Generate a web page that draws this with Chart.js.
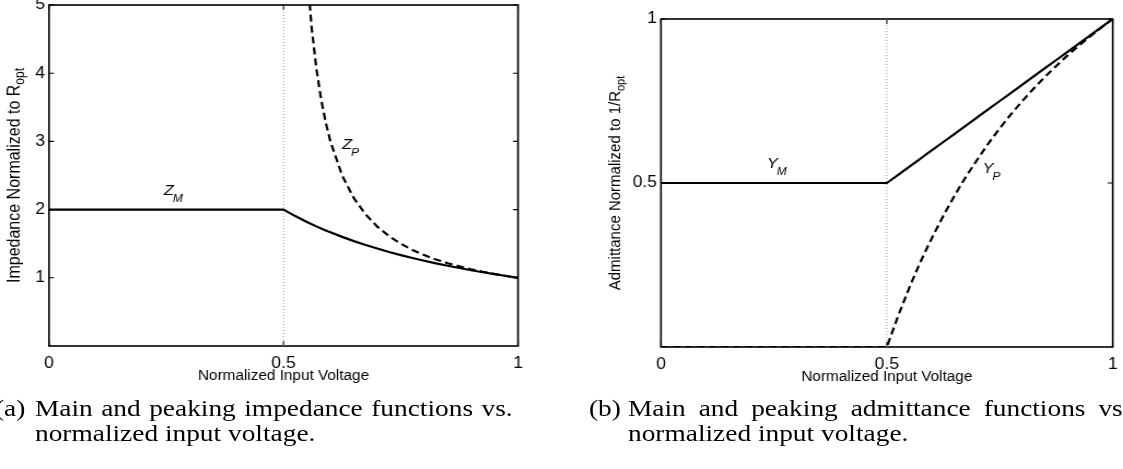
<!DOCTYPE html>
<html>
<head>
<meta charset="utf-8">
<script src="https://cdn.jsdelivr.net/npm/chart.js@4.4.1/dist/chart.umd.min.js"></script>
<style>
  html, body { margin: 0; padding: 0; background: #fff; }
  body { width: 1123px; height: 469px; position: relative; overflow: hidden; }
  canvas { position: absolute; top: 0; }
  .cap {
    position: absolute;
    font-family: "Liberation Serif", "Times New Roman", serif;
    font-size: 24px;
    line-height: 25px;
    white-space: nowrap;
    color: #000;
    transform: scaleX(1.14);
    transform-origin: 0 0;
  }
  .first { text-align: justify; text-align-last: justify; }
</style>
</head>
<body>
<canvas id="impedance" width="512" height="400" style="left:0;width:560px;height:400px"></canvas>
<canvas id="admittance" width="515" height="400" style="left:560px;width:563px;height:400px"></canvas>

<div class="cap" style="left:-5px;top:396px">(a)</div>
<div class="cap first" style="left:35px;top:396px;width:419px">Main and peaking impedance functions vs.</div>
<div class="cap" style="left:35px;top:421px">normalized input voltage.</div>

<div class="cap" style="left:589px;top:396px">(b)</div>
<div class="cap first" style="left:628px;top:396px;width:440px">Main and peaking admittance functions vs.</div>
<div class="cap" style="left:628px;top:421px">normalized input voltage.</div>

<script>
// normalized input voltage samples shared by every curve
const voltage = [0, 0.5, 0.525, 0.55, 0.56, 0.57, 0.58, 0.59, 0.6, 0.625, 0.65, 0.675, 0.7,
                 0.725, 0.75, 0.775, 0.8, 0.825, 0.85, 0.875, 0.9, 0.925, 0.95, 0.975, 1];

// impedances normalized to R_opt
const zMain = [2, 2, 1.905, 1.818, 1.786, 1.754, 1.724, 1.695, 1.667, 1.6, 1.538, 1.481, 1.429,
               1.379, 1.333, 1.29, 1.25, 1.212, 1.176, 1.143, 1.111, 1.081, 1.053, 1.026, 1];
const zPeak = [null, null, 10.5, 5.5, 4.667, 4.071, 3.625, 3.278, 3, 2.5, 2.167, 1.929, 1.75,
               1.611, 1.5, 1.409, 1.333, 1.269, 1.214, 1.167, 1.125, 1.088, 1.056, 1.026, 1];

// admittances normalized to 1/R_opt
const yMain = [0.5, 0.5, 0.525, 0.55, 0.56, 0.57, 0.58, 0.59, 0.6, 0.625, 0.65, 0.675, 0.7,
               0.725, 0.75, 0.775, 0.8, 0.825, 0.85, 0.875, 0.9, 0.925, 0.95, 0.975, 1];
const yPeak = [0, 0, 0.095, 0.182, 0.214, 0.246, 0.276, 0.305, 0.333, 0.4, 0.462, 0.519, 0.571,
               0.621, 0.667, 0.71, 0.75, 0.788, 0.824, 0.857, 0.889, 0.919, 0.947, 0.974, 1];

const transition = 0.5;
const xTicks = [0, 0.5, 1];
const zTicks = [1, 2, 3, 4, 5];
const yTicks = [0.5, 1];

const FONT = '"Liberation Sans", Arial, Helvetica, sans-serif';
const SX = 560 / 512; // canvases are drawn narrow and widened by css

Chart.defaults.font.family = FONT;
Chart.defaults.font.size = 16;
Chart.defaults.color = '#000';

const pts = (xs, ys) => xs.map((v, i) => ({ x: v, y: ys[i] }));

// matlab style box, inward ticks, axis titles and curve tags
const frame = {
  id: 'frame',
  beforeDatasetsDraw(chart, args, o) {
    const { ctx, chartArea: a, scales: { x, y } } = chart;
    ctx.save();
    ctx.strokeStyle = '#000';
    ctx.lineWidth = 1.6;
    ctx.strokeRect(a.left, a.top, a.right - a.left, a.bottom - a.top);
    ctx.lineWidth = 1.1;
    ctx.beginPath();
    x.ticks.forEach(t => {
      const px = x.getPixelForValue(t.value);
      ctx.moveTo(px, a.bottom); ctx.lineTo(px, a.bottom - 5);
      ctx.moveTo(px, a.top); ctx.lineTo(px, a.top + 5);
    });
    y.ticks.forEach(t => {
      const py = y.getPixelForValue(t.value);
      ctx.moveTo(a.left, py); ctx.lineTo(a.left + 5 / SX, py);
      ctx.moveTo(a.right, py); ctx.lineTo(a.right - 5 / SX, py);
    });
    ctx.stroke();
    ctx.restore();
  },
  afterDraw(chart, args, o) {
    const { ctx, chartArea: a, scales: { x, y } } = chart;
    ctx.save();
    ctx.fillStyle = '#000';

    ctx.font = `14px ${FONT}`;
    ctx.textAlign = 'center';
    ctx.textBaseline = 'alphabetic';
    ctx.fillText(o.xTitle, (a.left + a.right) / 2, a.bottom + 34);

    ctx.save();
    ctx.translate(o.yTitleX, (a.top + a.bottom) / 2);
    ctx.rotate(-Math.PI / 2);
    ctx.textAlign = 'left';
    const big = `${o.yTitleSize}px ${FONT}`;
    const small = `${Math.round(o.yTitleSize * 0.72)}px ${FONT}`;
    ctx.font = big;
    const w1 = ctx.measureText(o.yTitle).width;
    ctx.font = small;
    const w2 = ctx.measureText(o.ySub).width;
    const s = -(w1 + w2) / 2;
    ctx.font = big;
    ctx.fillText(o.yTitle, s, 0);
    ctx.font = small;
    ctx.fillText(o.ySub, s + w1, 4);
    ctx.restore();

    ctx.textAlign = 'left';
    o.tags.forEach(t => {
      const px = x.getPixelForValue(t.x);
      const py = y.getPixelForValue(t.y);
      ctx.font = `italic 15px ${FONT}`;
      ctx.fillText(t.main, px, py);
      const w = ctx.measureText(t.main).width;
      ctx.font = `italic 11px ${FONT}`;
      ctx.fillText(t.sub, px + w - 1, py + 7);
    });
    ctx.restore();
  }
};

function makeChart(id, cfg) {
  return new Chart(document.getElementById(id), {
    type: 'line',
    data: {
      datasets: [
        { data: pts(voltage, cfg.main), borderColor: '#000', borderWidth: 2.2, order: 1 },
        { data: pts(voltage, cfg.peak), borderColor: '#000', borderWidth: 2.2, borderDash: [7, 4], order: 2 },
        { data: [{ x: transition, y: cfg.yMin }, { x: transition, y: cfg.yMax }],
          borderColor: '#9a9a9a', borderWidth: 1, borderDash: [1, 2], order: 10 }
      ]
    },
    options: {
      responsive: false,
      animation: false,
      layout: { padding: cfg.padding },
      elements: { point: { radius: 0 }, line: { tension: 0, borderCapStyle: 'butt' } },
      plugins: {
        legend: { display: false },
        tooltip: { enabled: false },
        frame: cfg.frame
      },
      scales: {
        x: {
          type: 'linear', min: 0, max: 1,
          grid: { display: false, drawTicks: false },
          border: { display: false },
          ticks: { color: '#000', padding: 8, font: { family: FONT, size: 16 }, callback: v => String(v) },
          afterBuildTicks: s => { s.ticks = xTicks.map(v => ({ value: v })); },
          afterFit: s => { s.height = cfg.xHeight; s.paddingLeft = 0; s.paddingRight = 0; }
        },
        y: {
          type: 'linear', min: cfg.yMin, max: cfg.yMax,
          grid: { display: false, drawTicks: false },
          border: { display: false },
          ticks: { color: '#000', padding: 3.7, font: { family: FONT, size: 16 }, callback: v => String(v) },
          afterBuildTicks: s => { s.ticks = cfg.ticks.map(v => ({ value: v })); },
          afterFit: s => { s.width = cfg.yWidth; s.paddingTop = 0; s.paddingBottom = 0; }
        }
      }
    },
    plugins: [frame]
  });
}

makeChart('impedance', {
  main: zMain, peak: zPeak, yMin: 0, yMax: 5, ticks: zTicks,
  padding: { left: 0, right: 512 - 518 / SX, top: 5, bottom: 0 },
  yWidth: 49 / SX, xHeight: 400 - 346,
  frame: {
    xTitle: 'Normalized Input Voltage',
    yTitle: 'Impedance Normalized to R', ySub: 'opt', yTitleX: 19.5 / SX, yTitleSize: 16,
    tags: [
      { main: 'Z', sub: 'M', x: 0.245, y: 2.214 },
      { main: 'Z', sub: 'P', x: 0.625, y: 2.889 }
    ]
  }
});

makeChart('admittance', {
  main: yMain, peak: yPeak, yMin: 0, yMax: 1, ticks: yTicks,
  padding: { left: 0, right: 515 - 553 / SX, top: 19, bottom: 0 },
  yWidth: 101 / SX, xHeight: 400 - 347,
  frame: {
    xTitle: 'Normalized Input Voltage',
    yTitle: 'Admittance Normalized to 1/R', ySub: 'opt', yTitleX: 60.5 / SX, yTitleSize: 15,
    tags: [
      { main: 'Y', sub: 'M', x: 0.2345, y: 0.546 },
      { main: 'Y', sub: 'P', x: 0.712, y: 0.53 }
    ]
  }
});
</script>
</body>
</html>
